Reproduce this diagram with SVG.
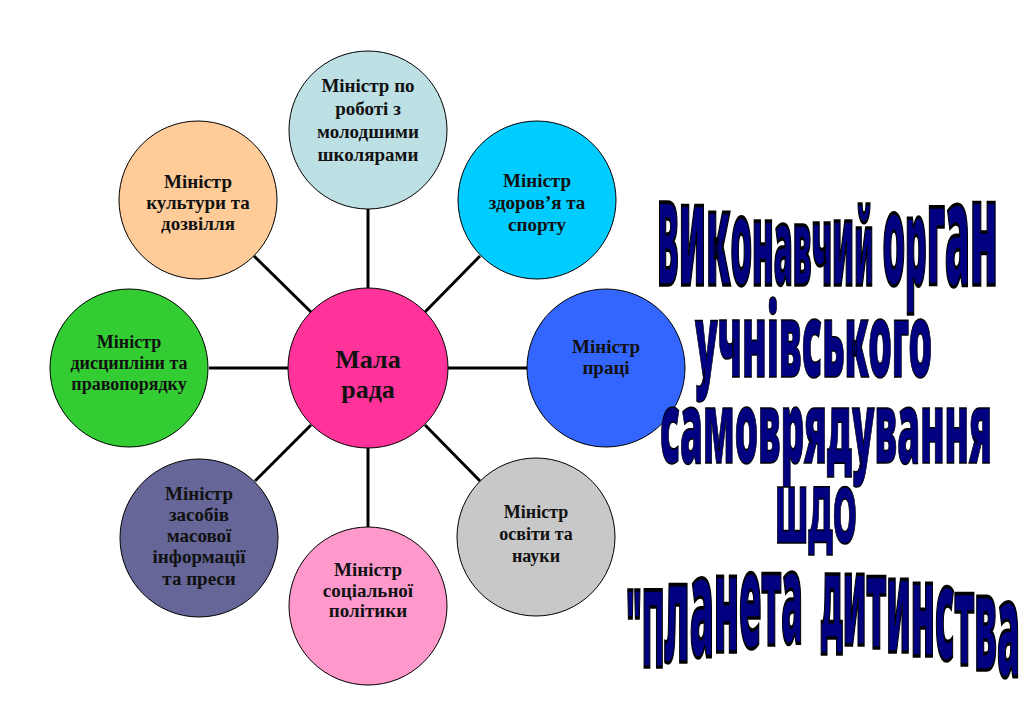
<svg xmlns="http://www.w3.org/2000/svg" width="1024" height="724" viewBox="0 0 1024 724">
<style>
.node circle{stroke:#000;stroke-width:1}
.lbl{font-family:"Liberation Serif","Times New Roman",serif;font-weight:bold;font-size:19px;fill:#111;text-anchor:middle}
.sm{font-size:18px}
.big{font-size:26px}
.conn line{stroke:#000;stroke-width:3}
.wa{font-family:"Noto Sans","Liberation Sans",sans-serif;font-weight:900;font-stretch:extra-condensed;fill:#000080;stroke:#000;stroke-width:1.2;white-space:pre}
</style>
<rect width="1024" height="724" fill="#fff"/>
<g id="connectors" class="conn">
<line x1="368" y1="288" x2="368" y2="209"/>
<line x1="311" y1="312" x2="254" y2="256"/>
<line x1="425" y1="312" x2="480" y2="256"/>
<line x1="288" y1="368" x2="209" y2="368"/>
<line x1="448" y1="368" x2="527" y2="368"/>
<line x1="311" y1="425" x2="255" y2="481"/>
<line x1="368" y1="448" x2="368" y2="527"/>
<line x1="425" y1="425" x2="480" y2="481"/>
</g>
<g id="center" class="node"><circle cx="368" cy="368" r="80" fill="#FF3399"/>
<text class="lbl big" x="368" y="368">Мала</text><text class="lbl big" x="368" y="398">рада</text></g>
<g id="n-young" class="node"><circle cx="368" cy="130" r="79" fill="#BDE0E5"/>
<text class="lbl" x="368" y="92">Міністр по</text><text class="lbl" x="368" y="115">роботі з</text><text class="lbl" x="368" y="138">молодшими</text><text class="lbl" x="368" y="161">школярами</text></g>
<g id="n-culture" class="node"><circle cx="198" cy="200" r="79" fill="#FFCC99"/>
<text class="lbl" x="198" y="188">Міністр</text><text class="lbl" x="198" y="209">культури та</text><text class="lbl" x="198" y="230">дозвілля</text></g>
<g id="n-health" class="node"><circle cx="537" cy="200" r="79" fill="#00CCFF"/>
<text class="lbl" x="537" y="187">Міністр</text><text class="lbl" x="537" y="209">здоров’я та</text><text class="lbl" x="537" y="231">спорту</text></g>
<g id="n-discipline" class="node"><circle cx="129" cy="368" r="79" fill="#33CC33"/>
<text class="lbl sm" x="129" y="348">Міністр</text><text class="lbl sm" x="129" y="369">дисципліни та</text><text class="lbl sm" x="129" y="390">правопорядку</text></g>
<g id="n-work" class="node"><circle cx="606" cy="368" r="79" fill="#3366FF"/>
<text class="lbl" x="606" y="353">Міністр</text><text class="lbl" x="606" y="374">праці</text></g>
<g id="n-media" class="node"><circle cx="199" cy="538" r="79" fill="#666699"/>
<text class="lbl" x="199" y="500">Міністр</text><text class="lbl" x="199" y="521">засобів</text><text class="lbl" x="199" y="542">масової</text><text class="lbl" x="199" y="563">інформації</text><text class="lbl" x="199" y="585">та преси</text></g>
<g id="n-social" class="node"><circle cx="368" cy="606" r="79" fill="#FF99CC"/>
<text class="lbl" x="368" y="576">Міністр</text><text class="lbl" x="368" y="597">соціальної</text><text class="lbl" x="368" y="617">політики</text></g>
<g id="n-education" class="node"><circle cx="536" cy="537" r="79" fill="#C8C8C8"/>
<text class="lbl sm" x="536" y="518">Міністр</text><text class="lbl sm" x="536" y="540">освіти та</text><text class="lbl sm" x="536" y="562">науки</text></g>
<g id="title">
<text class="wa" vector-effect="non-scaling-stroke" transform="translate(657,0) scale(1,3)" x="0" y="95" textLength="341" lengthAdjust="spacingAndGlyphs"><tspan font-size="38.3">В</tspan><tspan font-size="48">и</tspan><tspan font-size="43.7">к</tspan><tspan font-size="40.3">о</tspan><tspan font-size="38.7">н</tspan><tspan font-size="36">а</tspan><tspan font-size="36">в</tspan><tspan font-size="37.3">ч</tspan><tspan font-size="38.7">и</tspan><tspan font-size="34">й</tspan><tspan font-size="40"> </tspan><tspan font-size="42.3">о</tspan><tspan font-size="40">р</tspan><tspan font-size="46.7">г</tspan><tspan font-size="48">а</tspan><tspan font-size="49.7">н</tspan></text>
<text class="wa" vector-effect="non-scaling-stroke" transform="translate(695,0) scale(1,3)" x="0" y="125.67" font-size="34.33" textLength="237" lengthAdjust="spacingAndGlyphs">учнівського</text>
<text class="wa" vector-effect="non-scaling-stroke" transform="translate(660,0) scale(1,3)" x="0" y="154.33" font-size="33" textLength="332" lengthAdjust="spacingAndGlyphs">самоврядування</text>
<text class="wa" vector-effect="non-scaling-stroke" transform="translate(775,0) scale(1,3)" x="0" y="181" font-size="26" textLength="82" lengthAdjust="spacingAndGlyphs">ШДО</text>
<text class="wa" vector-effect="non-scaling-stroke" transform="translate(626,0) scale(1,3)" x="0" textLength="394" lengthAdjust="spacingAndGlyphs"><tspan y="222.33" font-size="36">"П</tspan><tspan y="220.67" font-size="46.67">л</tspan><tspan y="219" font-size="46.67">а</tspan><tspan y="217.33" font-size="45.33">н</tspan><tspan y="216" font-size="44.33">е</tspan><tspan y="215" font-size="43">т</tspan><tspan y="214.33" font-size="41.67">а  </tspan><tspan y="212.67" font-size="38.33">д</tspan><tspan y="215" font-size="42.33">и</tspan><tspan y="216" font-size="43">т</tspan><tspan y="217.33" font-size="43.67">и</tspan><tspan y="218.67" font-size="43.67">н</tspan><tspan y="220" font-size="43">с</tspan><tspan y="221.67" font-size="43">т</tspan><tspan y="223.33" font-size="44.33">в</tspan><tspan y="225.67" font-size="44.33">а</tspan></text>
</g>
</svg>
